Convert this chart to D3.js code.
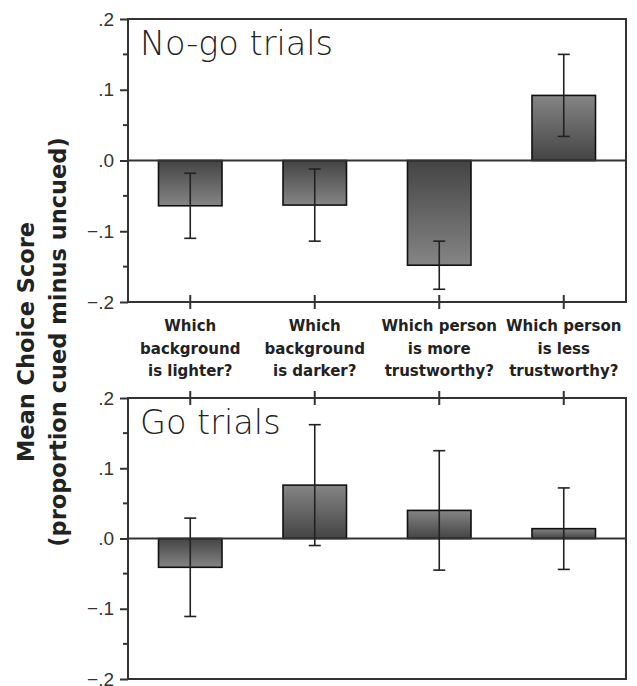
<!DOCTYPE html>
<html>
<head>
<meta charset="utf-8">
<script src="https://cdn.jsdelivr.net/npm/d3@7"></script>
<style>
  body { margin: 0; background: #fff; }
  svg { display: block; }
</style>
</head>
<body>
<script>
// data
var questions = [
  ["Which", "background", "is lighter?"],
  ["Which", "background", "is darker?"],
  ["Which person", "is more", "trustworthy?"],
  ["Which person", "is less", "trustworthy?"]
];
var nogoMeans = [-0.064, -0.063, -0.148, 0.092];
var nogoErr   = [0.046, 0.051, 0.034, 0.058];
var goMeans   = [-0.041, 0.076, 0.040, 0.014];
var goErr     = [0.070, 0.086, 0.085, 0.058];
var yTicks = [-0.2, -0.1, 0, 0.1, 0.2];
var yMinor = [-0.15, -0.05, 0.05, 0.15];

var width = 637;
var height = 686;

var svg = d3.select("body").append("svg")
    .attr("width", width)
    .attr("height", height);

var defs = svg.append("defs");
// dark near the zero line, lighter toward the bar end
var gradDown = defs.append("linearGradient").attr("id", "gDown")
    .attr("x1", 0).attr("y1", 0).attr("x2", 0).attr("y2", 1);
gradDown.append("stop").attr("offset", "0%").attr("stop-color", "#444");
gradDown.append("stop").attr("offset", "100%").attr("stop-color", "#858585");
var gradUp = defs.append("linearGradient").attr("id", "gUp")
    .attr("x1", 0).attr("y1", 1).attr("x2", 0).attr("y2", 0);
gradUp.append("stop").attr("offset", "0%").attr("stop-color", "#444");
gradUp.append("stop").attr("offset", "100%").attr("stop-color", "#858585");

var left = 128, right = 626;

var x = d3.scaleBand()
    .domain(d3.range(questions.length))
    .range([left, right])
    .paddingInner(0.49)
    .paddingOuter(0.245);

function drawPanel(top, bottom, title, means, errs, tickSide) {
    var y = d3.scaleLinear().domain([-0.2, 0.2]).range([bottom, top]);
    var g = svg.append("g");

    // frame
    g.append("rect")
        .attr("x", left).attr("y", top)
        .attr("width", right - left).attr("height", bottom - top)
        .attr("fill", "none").attr("stroke", "#333").attr("stroke-width", 2);

    // y axis
    var yAxis = d3.axisLeft(y)
        .tickValues(yTicks)
        .tickSize(8)
        .tickPadding(6)
        .tickFormat(function(d) {
            if (d === 0) return ".0";
            var s = d3.format(".1f")(Math.abs(d)).replace(/^0/, "");
            return d < 0 ? "\u2212" + s : s;
        });
    var ga = g.append("g").attr("transform", "translate(" + left + ",0)").call(yAxis);
    ga.select(".domain").remove();
    ga.selectAll("line").attr("stroke", "#333").attr("stroke-width", 2);
    ga.selectAll("text")
        .attr("fill", "#333")
        .style("font-family", "'Liberation Sans', Arial, sans-serif")
        .style("font-size", "19px");

    g.selectAll(".minor").data(yMinor).enter().append("line")
        .attr("x1", left - 5).attr("x2", left)
        .attr("y1", function(d) { return y(d); })
        .attr("y2", function(d) { return y(d); })
        .attr("stroke", "#333").attr("stroke-width", 2);

    // category ticks crossing the frame edge
    var edge = tickSide === "bottom" ? bottom : top;
    g.selectAll(".ctick").data(d3.range(questions.length)).enter().append("line")
        .attr("x1", function(d) { return x(d) + x.bandwidth() / 2; })
        .attr("x2", function(d) { return x(d) + x.bandwidth() / 2; })
        .attr("y1", edge - 7).attr("y2", edge + 7)
        .attr("stroke", "#333").attr("stroke-width", 2);

    // bars
    g.selectAll(".bar").data(means).enter().append("rect")
        .attr("x", function(d, i) { return x(i); })
        .attr("width", x.bandwidth())
        .attr("y", function(d) { return y(Math.max(0, d)); })
        .attr("height", function(d) { return Math.abs(y(d) - y(0)); })
        .attr("fill", function(d) { return d < 0 ? "url(#gDown)" : "url(#gUp)"; })
        .attr("stroke", "#111").attr("stroke-width", 1.6);

    // zero line
    g.append("line")
        .attr("x1", left).attr("x2", right)
        .attr("y1", y(0)).attr("y2", y(0))
        .attr("stroke", "#333").attr("stroke-width", 2);

    // error bars
    var eb = g.selectAll(".err").data(means).enter().append("g")
        .attr("transform", function(d, i) { return "translate(" + (x(i) + x.bandwidth() / 2) + ",0)"; });
    eb.append("line")
        .attr("y1", function(d, i) { return y(d + errs[i]); })
        .attr("y2", function(d, i) { return y(d - errs[i]); })
        .attr("stroke", "#222").attr("stroke-width", 1.6);
    eb.append("line")
        .attr("x1", -6).attr("x2", 6)
        .attr("y1", function(d, i) { return y(d + errs[i]); })
        .attr("y2", function(d, i) { return y(d + errs[i]); })
        .attr("stroke", "#222").attr("stroke-width", 1.6);
    eb.append("line")
        .attr("x1", -6).attr("x2", 6)
        .attr("y1", function(d, i) { return y(d - errs[i]); })
        .attr("y2", function(d, i) { return y(d - errs[i]); })
        .attr("stroke", "#222").attr("stroke-width", 1.6);

    // panel title
    g.append("text")
        .attr("x", left + 12).attr("y", top + 36)
        .attr("fill", "#222")
        .style("font-family", "'DejaVu Sans', sans-serif")
        .style("font-weight", 200)
        .style("font-size", "33.5px")
        .text(title);
}

drawPanel(19, 302, "No-go trials", nogoMeans, nogoErr, "bottom");
drawPanel(398, 679, "Go trials", goMeans, goErr, "top");

// category labels between the panels
var lab = svg.selectAll(".qlab").data(questions).enter().append("text")
    .attr("text-anchor", "middle")
    .attr("fill", "#222")
    .style("font-family", "'DejaVu Sans', sans-serif")
    .style("font-weight", 700)
    .style("font-size", "15px");
lab.selectAll("tspan").data(function(d) { return d; }).enter().append("tspan")
    .attr("x", function() {
        var i = questions.indexOf(d3.select(this.parentNode).datum());
        return x(i) + x.bandwidth() / 2;
    })
    .attr("y", function(d, j) { return 331 + j * 22.5; })
    .text(function(d) { return d; });

// y axis title
var yt = svg.append("text")
    .attr("transform", "translate(0,342) rotate(-90)")
    .attr("text-anchor", "middle")
    .attr("fill", "#222")
    .style("font-family", "'DejaVu Sans', sans-serif")
    .style("font-weight", 700)
    .style("font-size", "22.5px");
yt.append("tspan").attr("x", 0).attr("y", 34).text("Mean Choice Score");
yt.append("tspan").attr("x", 0).attr("y", 66).text("(proportion cued minus uncued)");
</script>
</body>
</html>
